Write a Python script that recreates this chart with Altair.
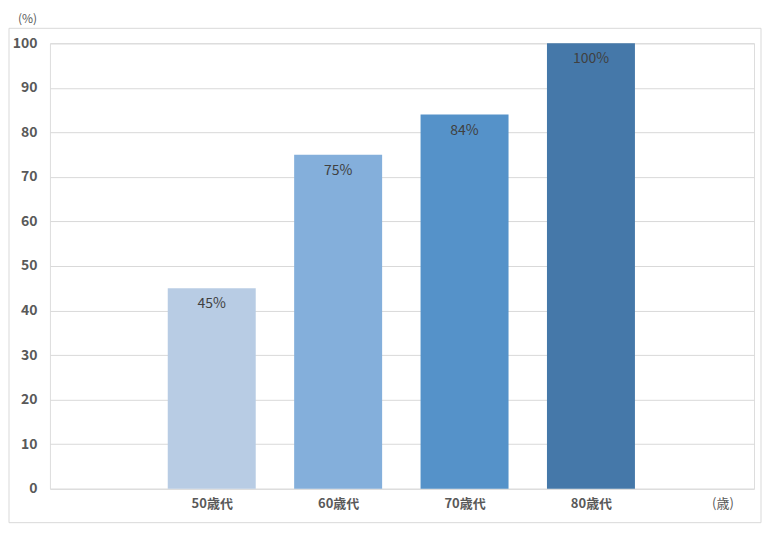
import altair as alt
import pandas as pd

categories = ["50歳代", "60歳代", "70歳代", "80歳代"]
values = [45, 75, 84, 100]
positions = [1, 2, 3, 4]
colors = ["#b8cce4", "#84afdb", "#5592c9", "#4578a9"]
tick_labels = ["", "50歳代", "60歳代", "70歳代", "80歳代", "(歳)"]

FONT = "Noto Sans CJK JP"
half = 0.348

df = pd.DataFrame({
    "cat": categories,
    "value": values,
    "pos": positions,
})
df["x1"] = df["pos"] - half
df["x2"] = df["pos"] + half
df["label"] = [f"{v}%" for v in values]

label_expr = "[" + ",".join(f"'{t}'" for t in tick_labels) + "][round(datum.value)]"

xscale = alt.Scale(domain=[-0.28, 5.29], nice=False, zero=False)
yscale = alt.Scale(domain=[0, 100], nice=False)

base = alt.Chart(df)

bars = base.mark_rect().encode(
    x=alt.X("x1:Q", scale=xscale,
            axis=alt.Axis(values=[1, 2, 3, 4, 5.04], labelExpr=label_expr, title=None,
                          grid=False, ticks=False, domain=False, labelPadding=9,
                          labelFont=FONT, labelFontSize=13,
                          labelFontWeight={"condition": {"test": "datum.value > 4.5", "value": "normal"}, "value": "bold"},
                          labelColor="#595959")),
    x2="x2:Q",
    y=alt.Y("value:Q", scale=yscale,
            axis=alt.Axis(values=list(range(0, 101, 10)), title="(%)", titleAngle=0,
                          titleX=-23, titleY=-25, titleAlign="center",
                          titleBaseline="middle", titleFont=FONT, titleFontSize=12,
                          titleFontWeight="normal", titleColor="#595959",
                          grid=True, gridColor="#d9d9d9", ticks=False, domain=False,
                          labelPadding=13, labelFont=FONT, labelFontSize=14,
                          labelFontWeight="bold", labelColor="#595959")),
    y2=alt.datum(0),
    color=alt.Color("cat:N", scale=alt.Scale(domain=categories, range=colors), legend=None),
)

texts = base.mark_text(font=FONT, fontSize=14, color="#404040", baseline="middle",
                       dy=16).encode(
    x=alt.X("pos:Q", scale=xscale),
    y=alt.Y("value:Q", scale=yscale),
    text="label:N",
)

frame = alt.Chart(pd.DataFrame({"a": [0]})).mark_rect(
    fill="transparent", stroke="#d9d9d9", strokeWidth=1, clip=False
).encode(
    x=alt.value(-41), x2=alt.value(712), y=alt.value(-15), y2=alt.value(480)
)

chart = alt.layer(frame, bars, texts).properties(
    width=705, height=446,
    padding={"left": 42, "top": 35, "right": 8, "bottom": 36},
    autosize="none",
).configure_view(
    fill="#f1f1f1", stroke="#d9d9d9"
).configure(background="white")

chart.save("out.html", embed_options={"renderer": "svg", "actions": False})
